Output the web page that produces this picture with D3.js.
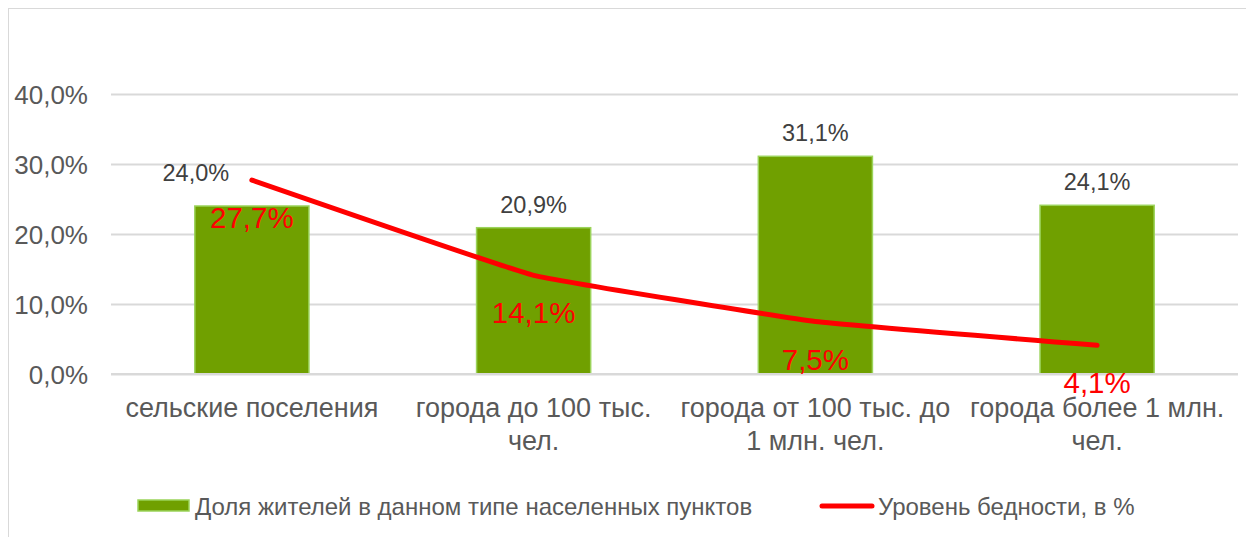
<!DOCTYPE html>
<html>
<head>
<meta charset="utf-8">
<script src="https://cdn.jsdelivr.net/npm/d3@7"></script>
<style>
  body { margin: 0; background: #fff; }
  svg { font-family: "Liberation Sans", Arial, sans-serif; }
</style>
</head>
<body>
<div class="content"></div>
<script>
// data
const categories = [
  ['сельские поселения'],
  ['города до 100 тыс.', 'чел.'],
  ['города от 100 тыс. до', '1 млн. чел.'],
  ['города более 1 млн.', 'чел.']
];
const shareValues = [24.0, 20.9, 31.1, 24.1];
const povertyValues = [27.7, 14.1, 7.5, 4.1];
const yTicks = [0, 10, 20, 30, 40];
const seriesNames = ['Доля жителей в данном типе населенных пунктов', 'Уровень бедности, в %'];

function main() {
  const svgW = 1246, svgH = 537;
  const svg = d3.select('.content').append('svg')
                .attr('width', svgW)
                .attr('height', svgH);

  // outer chart border
  svg.append('rect')
     .attr('x', 8.5).attr('y', 8.5)
     .attr('width', 1260).attr('height', 560)
     .attr('fill', 'none')
     .attr('stroke', '#d9d9d9');

  const fmt = v => v.toFixed(1).replace('.', ',') + '%';

  const x = d3.scaleBand()
              .domain(d3.range(categories.length))
              .range([111, 1238]);
  const y = d3.scaleLinear()
              .domain([0, 40])
              .range([374, 94]);
  const barW = x.bandwidth() * 0.405;
  const cx = i => x(i) + x.bandwidth() / 2;

  // gridlines + y labels
  const yAxis = svg.append('g')
      .attr('transform', 'translate(111,0)')
      .call(d3.axisLeft(y).tickValues(yTicks).tickSize(-1127).tickFormat(d => fmt(d)));
  yAxis.select('.domain').remove();
  yAxis.selectAll('.tick line').attr('stroke', '#d9d9d9').attr('stroke-width', 2);
  yAxis.selectAll('.tick text')
       .attr('x', -23)
       .attr('dy', '0.36em')
       .attr('fill', '#595959')
       .style('font-size', '26px')
       .style('font-family', '"Liberation Sans", Arial, sans-serif');

  // bars
  svg.selectAll('.bar').data(shareValues).enter()
     .append('rect')
     .attr('class', 'bar')
     .attr('x', (d, i) => cx(i) - barW / 2)
     .attr('y', d => y(d))
     .attr('width', barW)
     .attr('height', d => y(0) - y(d))
     .attr('fill', '#70a000')
     .attr('stroke', '#9bd35a')
     .attr('stroke-width', 1.5);

  // x axis line
  svg.append('line')
     .attr('x1', 111).attr('x2', 1238)
     .attr('y1', y(0)).attr('y2', y(0))
     .attr('stroke', '#d9d9d9').attr('stroke-width', 2);

  // bar labels (first one pushed left, like the original)
  svg.selectAll('.barlbl').data(shareValues).enter()
     .append('text')
     .attr('x', (d, i) => i === 0 ? cx(i) - 56 : cx(i))
     .attr('y', (d, i) => i === 0 ? y(d) - 25 : y(d) - 15)
     .attr('text-anchor', 'middle')
     .attr('fill', '#404040')
     .style('font-size', '23.5px')
     .text(d => fmt(d));

  // category labels
  const cat = svg.selectAll('.cat').data(categories).enter()
     .append('text')
     .attr('text-anchor', 'middle')
     .attr('fill', '#595959')
     .style('font-size', '27px');
  cat.selectAll('tspan').data((d, i) => d.map(t => ({ t, i }))).enter()
     .append('tspan')
     .attr('x', d => cx(d.i))
     .attr('y', (d, j) => 417 + j * 33)
     .text(d => d.t);

  // poverty line - excel-ish smoothing, mostly straight with rounded joints
  const line = d3.line()
                 .x((d, i) => cx(i))
                 .y(d => y(d))
                 .curve(d3.curveCardinal.tension(0.75));
  svg.append('path').datum(povertyValues)
     .attr('d', line)
     .attr('fill', 'none')
     .attr('stroke', '#ff0000')
     .attr('stroke-width', 5)
     .attr('stroke-linecap', 'round');

  svg.selectAll('.povlbl').data(povertyValues).enter()
     .append('text')
     .attr('x', (d, i) => cx(i))
     .attr('y', d => y(d) + 48)
     .attr('text-anchor', 'middle')
     .attr('fill', '#ff0000')
     .style('font-size', '29.5px')
     .text(d => fmt(d));

  // legend
  const lg = svg.append('g');
  lg.append('rect')
    .attr('x', 138).attr('y', 500)
    .attr('width', 51).attr('height', 11)
    .attr('fill', '#70a000').attr('stroke', '#9bd35a').attr('stroke-width', 1.5);
  lg.append('text')
    .attr('x', 195).attr('y', 515)
    .attr('fill', '#595959').style('font-size', '24px')
    .text(seriesNames[0]);
  lg.append('line')
    .attr('x1', 822).attr('x2', 872)
    .attr('y1', 506).attr('y2', 506)
    .attr('stroke', '#ff0000').attr('stroke-width', 5).attr('stroke-linecap', 'round');
  lg.append('text')
    .attr('x', 878).attr('y', 515)
    .attr('fill', '#595959').style('font-size', '24px')
    .text(seriesNames[1]);
}
main();
</script>
</body>
</html>
